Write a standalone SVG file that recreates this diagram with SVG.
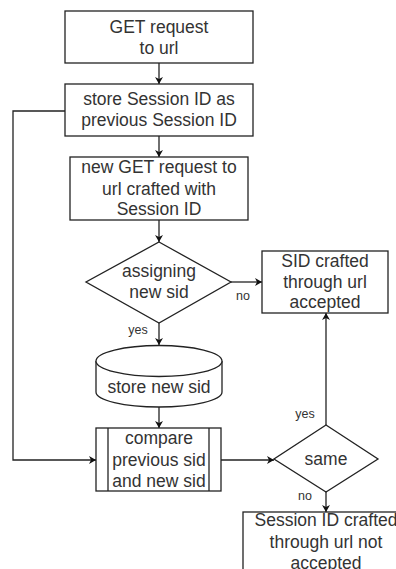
<svg xmlns="http://www.w3.org/2000/svg" width="396" height="569" viewBox="0 0 396 569">
<defs>
<marker id="arr" markerWidth="8" markerHeight="8" refX="7" refY="4" orient="auto" markerUnits="userSpaceOnUse">
<path d="M0,0 L7,4 L0,8 L2,4 Z" fill="#111"/>
</marker>
<style>
.sh{fill:#fff;stroke:#222;stroke-width:1.3}
.t{font-family:"Liberation Sans",Arial,sans-serif;font-size:17.5px;fill:#333;text-anchor:middle}
.l{font-family:"Liberation Sans",Arial,sans-serif;font-size:12.5px;fill:#333;text-anchor:middle}
.c{fill:none;stroke:#222;stroke-width:1.3;marker-end:url(#arr)}
</style>
</defs>
<rect width="396" height="569" fill="#fff"/>
<g id="connectors">
<path class="c" d="M159,63 V84"/>
<path class="c" d="M159,136 V157"/>
<path class="c" d="M159,220 V242"/>
<path class="c" d="M159,323 V345"/>
<path class="c" d="M231,282 H262"/>
<path class="c" d="M159,407 V428"/>
<path class="c" d="M65,111 H13 V460 H96"/>
<path class="c" d="M221,460 H274"/>
<path class="c" d="M326,425 V313"/>
<path class="c" d="M326,492 V512"/>
<text class="l" x="243" y="300">no</text>
<text class="l" x="138" y="334">yes</text>
<text class="l" x="305" y="418">yes</text>
<text class="l" x="305" y="500">no</text>
</g>
<g id="n1">
<rect class="sh" x="65" y="11" width="188" height="52"/>
<text class="t" x="159" y="32.5">GET request</text>
<text class="t" x="159" y="53.5">to url</text>
</g>
<g id="n2">
<rect class="sh" x="65" y="84" width="188" height="52"/>
<text class="t" x="159" y="105">store Session ID as</text>
<text class="t" x="159" y="126">previous Session ID</text>
</g>
<g id="n3">
<rect class="sh" x="70" y="157" width="178" height="63"/>
<text class="t" x="159" y="173">new GET request to</text>
<text class="t" x="159" y="194.5">url crafted with</text>
<text class="t" x="159" y="215">Session ID</text>
</g>
<g id="d1">
<path class="sh" d="M159,242 L231,282 L159,323 L86,282 Z"/>
<text class="t" x="159" y="277">assigning</text>
<text class="t" x="159" y="298">new sid</text>
</g>
<g id="n4">
<rect class="sh" x="262" y="251" width="126" height="62"/>
<text class="t" x="325" y="266.5">SID crafted</text>
<text class="t" x="325" y="287.5">through url</text>
<text class="t" x="325" y="308">accepted</text>
</g>
<g id="db">
<path class="sh" d="M96,361 A63,15.5 0 0 1 222,361 V392 A63,15 0 0 1 96,392 Z"/>
<path class="sh" fill="none" d="M96,361 A63,15.5 0 0 0 222,361"/>
<text class="t" x="159" y="393">store new sid</text>
</g>
<g id="n5">
<rect class="sh" x="96" y="428" width="125" height="63"/>
<line class="sh" x1="108" y1="428" x2="108" y2="491"/>
<line class="sh" x1="209" y1="428" x2="209" y2="491"/>
<text class="t" x="159" y="444">compare</text>
<text class="t" x="159" y="465.5">previous sid</text>
<text class="t" x="159" y="486.5">and new sid</text>
</g>
<g id="d2">
<path class="sh" d="M326,425 L378,459 L326,492 L274,459 Z"/>
<text class="t" x="326" y="465">same</text>
</g>
<g id="n6">
<rect class="sh" x="243" y="512" width="166" height="70"/>
<text class="t" x="326" y="526">Session ID crafted</text>
<text class="t" x="326" y="548">through url not</text>
<text class="t" x="326" y="569">accepted</text>
</g>
</svg>
